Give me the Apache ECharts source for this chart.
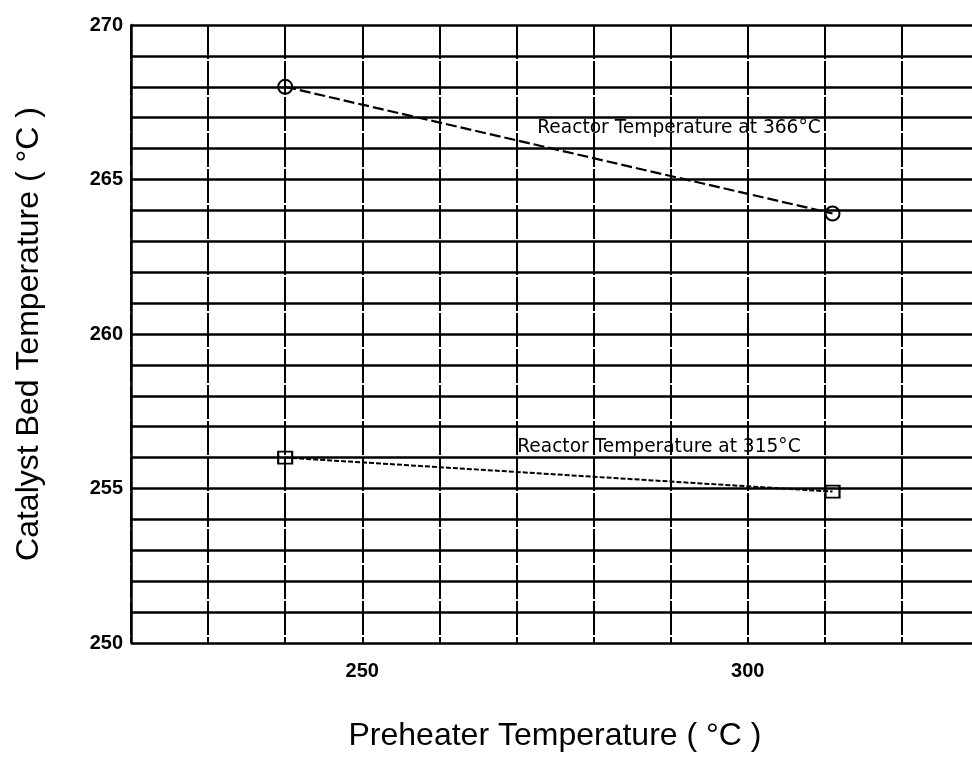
<!DOCTYPE html>
<html>
<head>
<meta charset="utf-8">
<script src="https://cdn.jsdelivr.net/npm/echarts@6/dist/echarts.min.js"></script>
<style>html,body{margin:0;padding:0;background:#fff;}#c{width:972px;height:762px;}</style>
</head>
<body>
<div id="c"></div>
<script>
// Data
const preheaterTemp = [240, 311];
const bedTemp366 = [268, 263.9];
const bedTemp315 = [256, 254.9];
const xTickLabels = [250, 300];
const seriesNames = ['Reactor Temperature at 366\u00b0C', 'Reactor Temperature at 315\u00b0C'];
// annotation anchors (data coordinates)
const annot366 = [272.7, 266.67];
const annot315 = [270.1, 256.35];

const chart = echarts.init(document.getElementById('c'), null, {renderer: 'canvas'});
const pts = (ys) => preheaterTemp.map((x, i) => [x, ys[i]]);
const FONT = 'Liberation Sans, Arial, sans-serif';

chart.setOption({
  backgroundColor: '#fff',
  animation: false,
  grid: {left: 131, top: 25, width: 848, height: 618, outerBoundsMode: 'none', containLabel: false},
  xAxis: {
    type: 'value', min: 220, max: 330, interval: 10,
    name: 'Preheater Temperature ( \u00b0C )', nameLocation: 'middle', nameGap: 77,
    nameTextStyle: {fontFamily: FONT, fontSize: 32, color: '#000'},
    axisLine: {show: false}, axisTick: {show: false},
    axisLabel: {
      margin: 18, color: '#000', fontFamily: FONT, fontSize: 20, fontWeight: 'bold',
      formatter: v => xTickLabels.includes(v) ? String(v) : ''
    },
    splitLine: {show: true, lineStyle: {color: '#000', width: 2, type: [34, 2]}}
  },
  yAxis: {
    type: 'value', min: 250, max: 270, interval: 1,
    name: 'Catalyst Bed Temperature ( \u00b0C )', nameLocation: 'middle', nameGap: 86,
    nameTextStyle: {fontFamily: FONT, fontSize: 32, color: '#000'},
    axisLine: {show: true, lineStyle: {color: '#000', width: 2.5}}, axisTick: {show: false},
    axisLabel: {
      margin: 8, color: '#000', fontFamily: FONT, fontSize: 20, fontWeight: 'bold',
      formatter: v => (v % 5 === 0) ? String(v) : ''
    },
    splitLine: {show: true, lineStyle: {color: '#000', width: 2.5}}
  },
  series: [
    {
      name: seriesNames[0], type: 'line', data: pts(bedTemp366),
      symbol: 'circle', symbolSize: 14,
      itemStyle: {color: 'rgba(255,255,255,0)', borderColor: '#000', borderWidth: 2},
      lineStyle: {color: '#000', width: 2.2, type: [11, 4]}
    },
    {
      name: seriesNames[1], type: 'line', data: pts(bedTemp315),
      symbol: 'rect', symbolSize: [14, 12],
      itemStyle: {color: 'rgba(255,255,255,0)', borderColor: '#000', borderWidth: 2},
      lineStyle: {color: '#000', width: 2, type: [5, 2]}
    }
  ]
});

const p1 = chart.convertToPixel({gridIndex: 0}, annot366);
const p2 = chart.convertToPixel({gridIndex: 0}, annot315);
chart.setOption({
  graphic: [
    {type: 'text', x: p1[0], y: p1[1], style: {text: seriesNames[0], fontFamily: 'DejaVu Sans', fontSize: 18.6, fill: '#000', verticalAlign: 'middle', align: 'left'}},
    {type: 'text', x: p2[0], y: p2[1], style: {text: seriesNames[1], fontFamily: 'DejaVu Sans', fontSize: 18.6, fill: '#000', verticalAlign: 'middle', align: 'left'}}
  ]
});
</script>
</body>
</html>
